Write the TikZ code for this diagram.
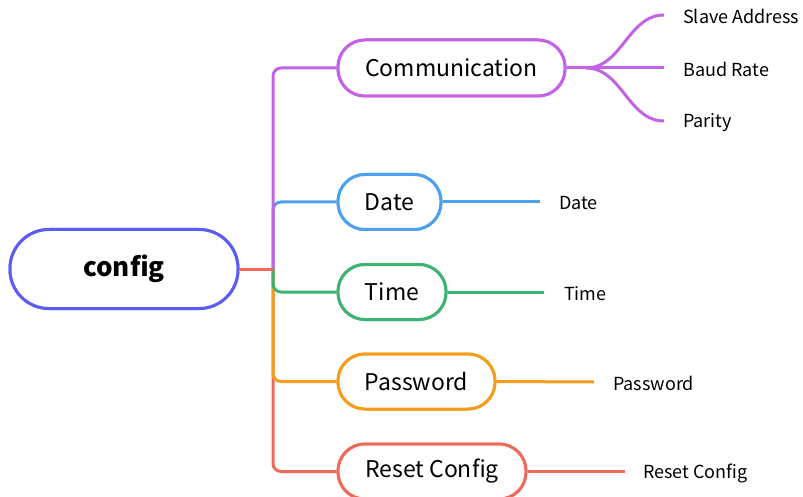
\documentclass[tikz,border=0pt]{standalone}
\usepackage{fontspec}
\setmainfont{Noto Sans CJK SC}
\definecolor{cblue}{HTML}{5A5CF2}
\definecolor{cpurple}{HTML}{C262E4}
\definecolor{cdate}{HTML}{4DA0EE}
\definecolor{cgreen}{HTML}{3CB371}
\definecolor{corange}{HTML}{F39C1E}
\definecolor{cred}{HTML}{EE6B5B}
\begin{document}
\begin{tikzpicture}[x=1pt,y=-1pt,
  pill/.style={draw,line width=3pt,fill=white,rectangle,rounded corners=27pt,minimum height=55pt,inner sep=0pt,font=\fontsize{23}{25}\selectfont},
  root/.style={pill,draw=cblue,minimum width=228pt,minimum height=79pt,rounded corners=39pt,font=\fontsize{26}{28}\selectfont\bfseries},
  leaf/.style={anchor=west,inner sep=0pt,yshift=-1.5pt,font=\fontsize{18}{20}\selectfont},
  conn/.style={line width=3pt},
  trunk/.style={line width=3pt,rounded corners=8pt}]
\useasboundingbox (0,0) rectangle (803,497);
% nodes
\node[root] (config) at (124,269) {config};
\coordinate (j) at (273,269);
\node[pill,draw=cpurple,minimum width=227pt,minimum height=56pt] (comm) at (451.5,68) {Communication};
\node[pill,draw=cdate,minimum width=103pt] (date) at (389.5,202) {Date};
\node[pill,draw=cgreen,minimum width=108pt] (time) at (392,292) {Time};
\node[pill,draw=corange,minimum width=157pt] (pass) at (416.5,381.5) {Password};
\node[pill,draw=cred,minimum width=188pt] (reset) at (432,471.5) {Reset Config};
% leaves
\node[leaf] (l1) at (683,15) {Slave Address};
\node[leaf] (l2) at (683,68) {Baud Rate};
\node[leaf] (l3) at (683,121) {Parity};
\node[leaf] (l4) at (559,202) {Date};
\node[leaf] (l5) at (564,292) {Time};
\node[leaf] (l6) at (613,382) {Password};
\node[leaf] (l7) at (643,471.5) {Reset Config};
\coordinate (e1) at (664,15);
\coordinate (e2) at (664,68);
\coordinate (e3) at (664,121);
\coordinate (fork) at (586,68);
\coordinate (e4) at (540,202);
\coordinate (e5) at (544,292);
\coordinate (e6) at (594,382);
\coordinate (e7) at (625,471.5);
% trunk connectors
\draw[trunk,cred] (j) |- (reset.west);
\draw[trunk,corange] (j) |- (pass.west);
\draw[trunk,cgreen] (j) |- (time.west);
\draw[trunk,cdate] (j) |- (date.west);
\draw[trunk,cpurple] (j) |- (comm.west);
\draw[conn,cred] (config.east) -- (j);
% leaf connectors
\draw[conn,cpurple] (comm.east) -- (fork);
\draw[conn,cpurple] (fork) .. controls (622,68) and (628,15) .. (e1);
\draw[conn,cpurple] (fork) -- (e2);
\draw[conn,cpurple] (fork) .. controls (622,68) and (628,121) .. (e3);
\draw[conn,cdate] (date.east) -- (e4);
\draw[conn,cgreen] (time.east) -- (e5);
\draw[conn,corange] (pass.east) -- (e6);
\draw[conn,cred] (reset.east) -- (e7);
% redraw nodes on top of the trunk
\node[root] at (config) {config};
\node[pill,draw=cpurple,minimum width=227pt,minimum height=56pt] at (comm) {Communication};
\node[pill,draw=cdate,minimum width=103pt] at (date) {Date};
\node[pill,draw=cgreen,minimum width=108pt] at (time) {Time};
\node[pill,draw=corange,minimum width=157pt] at (pass) {Password};
\node[pill,draw=cred,minimum width=188pt] at (reset) {Reset Config};
\end{tikzpicture}
\end{document}
